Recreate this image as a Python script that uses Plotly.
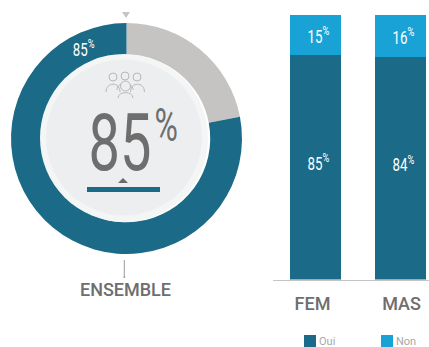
import plotly.graph_objects as go

W, H = 429, 347
ring_labels = ["Reste", "Oui"]
ring_values = [22, 78]
ensemble_value = 85
groups = ["FEM", "MAS"]
oui = [85, 84]
non = [15, 16]
DARK, LIGHT, GREY = "#1b6a87", "#18a2d6", "#6e6e6e"
NARROW = "Roboto, sans-serif"
LABEL = "Roboto"

def px(x): return x / W
def py(y): return 1 - y / H

fig = go.Figure()
fig.add_trace(go.Pie(labels=ring_labels, values=ring_values, hole=0.725, sort=False, direction="clockwise",
                     rotation=0, marker=dict(colors=["#c6c4c2", DARK], line=dict(width=0)),
                     textinfo="none", hoverinfo="skip", showlegend=False, automargin=False,
                     domain=dict(x=[px(11), px(242)], y=[py(254), py(23)])))
pct = lambda v: f"{v}<sup>%</sup>"
for name, vals, col in [("Oui", oui, DARK), ("Non", non, LIGHT)]:
    fig.add_trace(go.Bar(x=groups, y=vals, name=name, marker=dict(color=col, line=dict(width=0)), width=0.6,
                         text=[pct(v) for v in vals], textposition="inside", insidetextanchor="middle", textangle=0,
                         constraintext="none", textfont=dict(family=NARROW, size=18, color="white"),
                         xaxis="x", yaxis="y"))

shapes = []
def circle(cx, cy, r, fill=None, line=None, lw=1):
    shapes.append(dict(type="circle", xref="paper", yref="paper", x0=px(cx-r), x1=px(cx+r), y0=py(cy+r), y1=py(cy-r),
                       fillcolor=fill or "rgba(0,0,0,0)", line=dict(color=line or "rgba(0,0,0,0)", width=lw if line else 0)))
def path(points, fill=None, line=None, lw=1):
    d = "M" + " L".join(f"{px(x):.5f},{py(y):.5f}" for x, y in points)
    if fill: d += " Z"
    shapes.append(dict(type="path", xref="paper", yref="paper", path=d, fillcolor=fill or "rgba(0,0,0,0)",
                       line=dict(color=line or "rgba(0,0,0,0)", width=lw if line else 0)))
def arc(cx, cy, rx, ry, color, lw=1):
    d = f"M{px(cx-rx):.5f},{py(cy):.5f} C{px(cx-rx):.5f},{py(cy-ry*1.3):.5f} {px(cx+rx):.5f},{py(cy-ry*1.3):.5f} {px(cx+rx):.5f},{py(cy):.5f}"
    shapes.append(dict(type="path", xref="paper", yref="paper", path=d, line=dict(color=color, width=lw)))

circle(124, 138, 84, fill="#f3f6f5")
circle(124, 137.5, 78, fill="#edeef0")
path([(87, 187), (160, 187), (160, 192), (87, 192)], fill=DARK)
path([(118, 183), (128, 183), (123, 178)], fill="#6b6b6b")
path([(122, 12), (130, 12), (126, 18)], fill="#c6c4c2")
path([(124.3, 260), (124.3, 276)], line="#9a9a9a", lw=1)
circle(124.3, 277, 1, fill="#9a9a9a")
ic = "#b8b8b8"
for cx, cy, rx, ry in [(113, 92, 7, 8), (137.5, 92, 7, 8), (125, 90, 8, 7)]:
    arc(cx, cy, rx, ry, ic)
for cx, cy, r in [(113, 77, 4), (125, 76, 4), (137, 77, 4), (125.5, 86, 5)]:
    circle(cx, cy, r, fill="#edeef0", line=ic, lw=1)
arc(125.5, 98, 7.5, 5.5, ic)

annos = [
    dict(text=pct(ensemble_value), x=px(83.5), y=py(48), font=dict(family=NARROW, size=18, color="white")),
    dict(text=str(ensemble_value), x=px(119.5), y=py(143), font=dict(family=NARROW, size=80, color=GREY)),
    dict(text="%", x=px(166), y=py(124), font=dict(family=NARROW, size=47, color=GREY)),
    dict(text="ENSEMBLE", x=px(125), y=py(289), font=dict(family=LABEL, size=18, weight=500, color=GREY)),
]
for a in annos:
    a.update(xref="paper", yref="paper", showarrow=False, xanchor="center", yanchor="middle")

fig.update_layout(
    width=W, height=H, margin=dict(l=0, r=0, t=0, b=0, autoexpand=False), paper_bgcolor="white", plot_bgcolor="white",
    barmode="stack", shapes=shapes, annotations=annos, autosize=False,
    xaxis=dict(domain=[px(273), 1], range=[-0.5, 1.335], type="category", showgrid=False, zeroline=False, showline=True, automargin=False,
               linecolor="#c4c4c4", linewidth=1, ticks="", tickfont=dict(family=LABEL, size=18, weight=500, color=GREY), ticklabelstandoff=8, anchor="y"),
    yaxis=dict(domain=[py(279.5), py(15)], range=[0, 100], visible=False, anchor="x", automargin=False),
    legend=dict(orientation="h", x=px(290), y=py(341), xanchor="left", yanchor="middle", itemclick=False, itemdoubleclick=False,
                font=dict(family=LABEL, size=11, color="#a8a8a8"), entrywidth=32, entrywidthmode="pixels", bgcolor="rgba(0,0,0,0)", traceorder="normal"),
)

# Page reset plus a horizontal squeeze standing in for the reference's condensed typeface.
post = """
document.body.style.margin = '0';
function squeeze(el, k, dx, dy) {
  var b = el.getBBox(), c = b.x + b.width / 2, t = el.getAttribute('transform') || '';
  el.setAttribute('transform', 'translate(' + dx + ',' + dy + ') ' + t + ' translate(' + c + ',0) scale(' + k + ',1) translate(' + (-c) + ',0)');
}
document.querySelectorAll('.annotation-text').forEach(function (el) {
  var s = el.textContent;
  if (s === 'ENSEMBLE') return;
  squeeze(el, s === '%' ? 0.68 : s === '85' ? 0.70 : 0.74, 0, 0);
});
document.querySelectorAll('.bartext').forEach(function (el) {
  var big = parseInt(el.textContent) > 50;
  squeeze(el, 0.74, 3, big ? -5 : 0);
});
document.querySelectorAll('.xtick text').forEach(function (el) {
  squeeze(el, 1, el.textContent === 'FEM' ? -3 : 1, 0);
});
document.querySelectorAll('.legendtext').forEach(function (el) {
  el.setAttribute('x', parseFloat(el.getAttribute('x')) - 11);
});
"""
fig.write_html("out.html", config=dict(displayModeBar=False), post_script=post)
